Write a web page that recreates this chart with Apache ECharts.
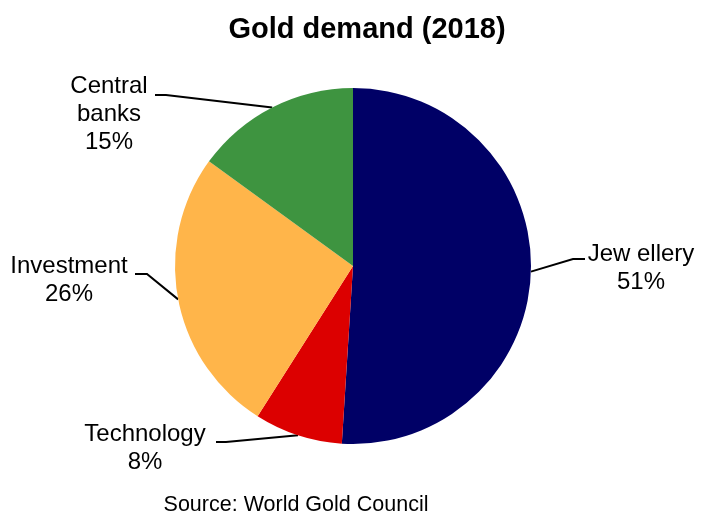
<!DOCTYPE html>
<html>
<head>
<meta charset="utf-8">
<title>Gold demand (2018)</title>
<script src="https://cdn.jsdelivr.net/npm/echarts@6/dist/echarts.min.js"></script>
<style>
  html, body { margin: 0; padding: 0; background: #ffffff; }
  #chart { width: 708px; height: 514px; }
</style>
</head>
<body>
<div id="chart"></div>
<script>
// Gold demand by sector, 2018 (share of total, %)
const categories = ['Jew ellery', 'Technology', 'Investment', 'Central\nbanks'];
const shares = [51, 8, 26, 15];
const colors = ['#000066', '#DC0000', '#FFB54A', '#3E9440'];

// Label placement: text centre, elbow of the leader line, and its end next to the text
const labelCentres = [[641, 268], [145, 448], [69, 280], [109, 114]];
const leaderElbows = [[573, 259], [226, 442], [147, 274], [166, 95]];
const leaderEnds = [[585, 259], [216, 442], [135, 274], [155, 95]];

const chart = echarts.init(document.getElementById('chart'), null, { renderer: 'canvas' });

const font = '"Liberation Sans", Arial, Helvetica, sans-serif';

chart.setOption({
  animation: false,
  backgroundColor: '#ffffff',
  title: [
    {
      text: 'Gold demand (2018)',
      left: 362,
      top: 10,
      textAlign: 'center',
      textStyle: { fontFamily: font, fontSize: 29, fontWeight: 'bold', color: '#000000' }
    },
    {
      text: 'Source: World Gold Council',
      left: 291,
      top: 489,
      textAlign: 'center',
      textStyle: { fontFamily: font, fontSize: 21.5, fontWeight: 'normal', color: '#000000' }
    }
  ],
  series: [
    {
      type: 'pie',
      center: [353, 266],
      radius: 178,
      startAngle: 90,
      clockwise: true,
      avoidLabelOverlap: false,
      silent: true,
      data: categories.map((name, i) => ({
        name: name,
        value: shares[i],
        itemStyle: { color: colors[i] }
      })),
      label: {
        show: true,
        position: 'outside',
        formatter: '{b}\n{d}%',
        fontFamily: font,
        fontSize: 24,
        lineHeight: 28,
        color: '#000000',
        align: 'center'
      },
      labelLine: {
        show: true,
        length: 20,
        length2: 10,
        lineStyle: { color: '#000000', width: 2 }
      },
      labelLayout: function (params) {
        const i = params.dataIndex;
        const edge = params.labelLinePoints ? params.labelLinePoints[0] : leaderElbows[i];
        return {
          x: labelCentres[i][0],
          y: labelCentres[i][1],
          align: 'center',
          verticalAlign: 'middle',
          labelLinePoints: [edge, leaderElbows[i], leaderEnds[i]]
        };
      }
    }
  ]
});
</script>
</body>
</html>
